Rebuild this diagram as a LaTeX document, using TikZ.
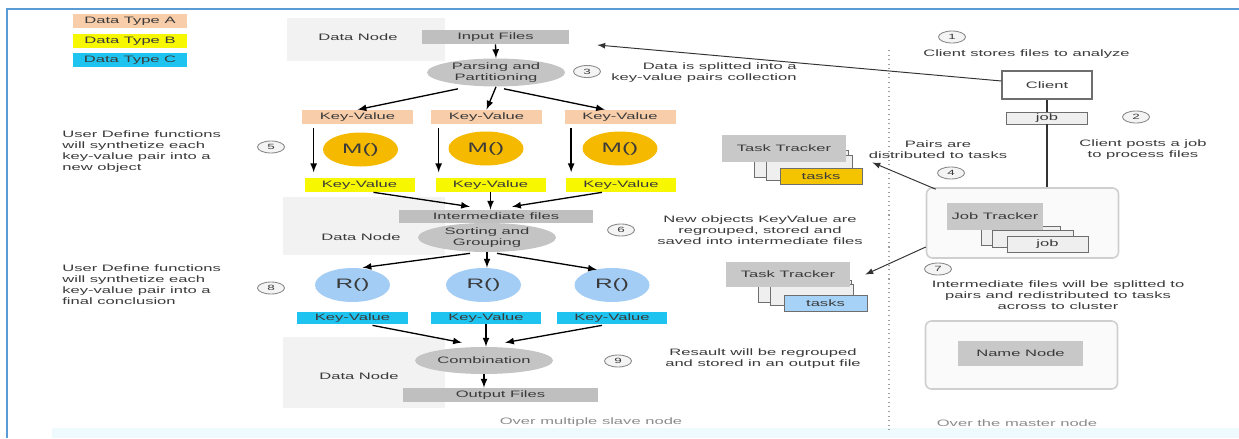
\documentclass[tikz,border=0pt]{standalone}
\usepackage{fontspec}
\setmainfont[FakeStretch=1.78]{Liberation Sans}
\usepackage{tikz}
\usetikzlibrary{positioning,shapes.geometric}
\definecolor{FrameBlue}{HTML}{5B9BD5}
\definecolor{StripCyan}{HTML}{EEFAFD}
\definecolor{NodeBg}{HTML}{F2F2F2}
\definecolor{TextDark}{HTML}{3A3A3A}
\definecolor{CapGray}{HTML}{8C8C8C}
\definecolor{TypeA}{HTML}{F8CDAA}
\definecolor{TypeB}{HTML}{F7F700}
\definecolor{TypeC}{HTML}{1EC3F0}
\definecolor{BarGray}{HTML}{BFBFBF}
\definecolor{EllGray}{HTML}{C4C4C4}
\definecolor{MapGold}{HTML}{F5BA00}
\definecolor{RedBlue}{HTML}{A3CDF5}
\definecolor{StepGray}{HTML}{8A8A8A}
\definecolor{StepFill}{HTML}{F4F4F4}
\definecolor{TrackGray}{HTML}{C8C8C8}
\definecolor{StackLine}{HTML}{6E6E6E}
\definecolor{StackFill}{HTML}{EFEFEF}
\definecolor{TaskGold}{HTML}{F5C400}
\definecolor{TaskBlue}{HTML}{A6D2F7}
\definecolor{MasterLine}{HTML}{CFCFCF}
\definecolor{MasterFill}{HTML}{FAFAFA}
\definecolor{LinkGray}{HTML}{333333}
\definecolor{SepGray}{HTML}{A0A0A0}
\tikzset{
  txtnode/.style={inner sep=0pt,align=center,
    font=\fontsize{5.3}{6.3}\selectfont\color{TextDark}},
  legbox/.style={txtnode,minimum width=22.8mm,minimum height=2.8mm},
  filebar/.style={txtnode,fill=BarGray,minimum height=2.8mm},
  procell/.style={txtnode,ellipse,fill=EllGray,minimum width=27.6mm,minimum height=5.2mm},
  kvbox/.style={txtnode,minimum width=22mm,minimum height=2.8mm},
  mapnode/.style={ellipse,fill=MapGold,minimum width=15mm,minimum height=6.8mm,inner sep=0pt,
    font=\fontsize{7.8}{9}\selectfont\color{TextDark}},
  rednode/.style={ellipse,fill=RedBlue,minimum width=15mm,minimum height=6.8mm,inner sep=0pt,
    font=\fontsize{7.8}{9}\selectfont\color{TextDark}},
  stepmark/.style={ellipse,draw=StepGray,line width=0.5pt,fill=StepFill,
    minimum width=5.4mm,minimum height=2.4mm,inner sep=0pt,
    font=\fontsize{4.3}{5}\selectfont\color{TextDark}},
  tracker/.style={txtnode,fill=TrackGray,minimum width=24.8mm,minimum height=5.4mm},
  stackbox/.style={draw=StackLine,fill=StackFill,line width=0.4pt,inner sep=0pt},
  masterbox/.style={draw=MasterLine,fill=MasterFill,line width=0.9pt,rounded corners=1.2mm,
    minimum width=38.4mm,minimum height=14mm},
  caption/.style={inner sep=0pt,font=\fontsize{5.3}{6.3}\selectfont\color{CapGray}},
  flow/.style={-latex,line width=0.75pt,draw=black},
  link/.style={-latex,line width=0.55pt,draw=LinkGray},
  wire/.style={line width=1.1pt,draw=LinkGray},
}

\begin{document}
\begin{tikzpicture}[x=0.2mm,y=-0.2mm]
  \useasboundingbox (0,0) rectangle (1239,438);
  \fill[StripCyan] (52,428) rectangle (1239,438);
  \draw[FrameBlue,line width=0.4mm] (7,438) -- (7,9) -- (1239,9);
  \fill[NodeBg] (287,18) rectangle (445,61);
  \fill[NodeBg] (283,197) rectangle (445,255);
  \fill[NodeBg] (283,337) rectangle (445,408);
  \draw[SepGray,dotted,line width=0.6pt] (889,50) -- (889,432);

  \node[legbox,fill=TypeA] (legA) at (130,21.5) {Data Type A};
  \node[legbox,fill=TypeB] (legB) at (130,41) {Data Type B};
  \node[legbox,fill=TypeC] (legC) at (130,60.5) {Data Type C};

  \node[txtnode] (dn1) at (358,37) {Data Node};
  \node[txtnode] (dn2) at (361,237) {Data Node};
  \node[txtnode] (dn3) at (359,376) {Data Node};

  \node[filebar,minimum width=29.4mm] (inp) at (495.5,37) {Input Files};
  \node[procell] (parse) at (496,72.5) {Parsing and\\Partitioning};
  \node[stepmark] (s3) at (587,71.5) {3};
  \node[txtnode,align=right,anchor=east] (note3) at (797,72.5) {Data is splitted into a\\key-value pairs collection};

  \node[kvbox,fill=TypeA,minimum width=22.2mm] (kvA1) at (357.5,117) {Key-Value};
  \node[kvbox,fill=TypeA,minimum width=22.2mm] (kvA2) at (486.5,117) {Key-Value};
  \node[kvbox,fill=TypeA,minimum width=22.2mm] (kvA3) at (620,117) {Key-Value};
  \node[mapnode] (mapM1) at (360.5,149.5) {M()};
  \node[mapnode] (mapM2) at (486,148.5) {M()};
  \node[mapnode] (mapM3) at (620,148.5) {M()};
  \node[kvbox,fill=TypeB] (kvB1) at (359.5,185) {Key-Value};
  \node[kvbox,fill=TypeB] (kvB2) at (490.5,185) {Key-Value};
  \node[kvbox,fill=TypeB] (kvB3) at (621,185) {Key-Value};
  \node[stepmark] (s5) at (271,147) {5};
  \node[txtnode,align=left,anchor=west] (udf1) at (62,151.5) {User Define functions\\will synthetize each\\key-value pair into a\\new object};

  \node[filebar,minimum width=38.8mm,minimum height=2.6mm] (inter) at (496,216.5) {Intermediate files};
  \node[procell,minimum height=5.8mm] (sort) at (487,237.5) {Sorting and\\Grouping};
  \node[stepmark] (s6) at (621,230) {6};
  \node[txtnode] (note6) at (760,230) {New objects KeyValue are\\regrouped, stored and\\saved into intermediate files};

  \node[rednode] (redR1) at (352.5,285) {R()};
  \node[rednode] (redR2) at (483.5,285) {R()};
  \node[rednode] (redR3) at (612,285) {R()};
  \node[kvbox,fill=TypeC,minimum width=22.2mm,minimum height=2.4mm] (kvC1) at (352.5,318) {Key-Value};
  \node[kvbox,fill=TypeC,minimum height=2.4mm] (kvC2) at (486,318) {Key-Value};
  \node[kvbox,fill=TypeC,minimum height=2.4mm] (kvC3) at (612,318) {Key-Value};
  \node[stepmark] (s8) at (271,288) {8};
  \node[txtnode,align=left,anchor=west] (udf2) at (62,285) {User Define functions\\will synthetize each\\key-value pair into a\\final conclusion};

  \node[procell,minimum height=5.4mm] (comb) at (484,360.5) {Combination};
  \node[stepmark] (s9) at (618,361) {9};
  \node[txtnode] (note9) at (763,359) {Resault will be regrouped\\and stored in an output file};
  \node[filebar,minimum width=39mm] (outp) at (500.5,395) {Output Files};
  \node[caption] (slave) at (591,422) {Over multiple slave node};

  \node[stepmark] (s1) at (952,37) {1};
  \node[txtnode] (note1) at (1026.5,54) {Client stores files to analyze};
  \node[txtnode,draw=StackLine,fill=white,line width=0.6pt,minimum width=18mm,minimum height=5.6mm] (client) at (1047,85) {Client};
  \node[txtnode,draw=StackLine,fill=StackFill,line width=0.5pt,minimum width=16.2mm,minimum height=2.4mm] (jobtag) at (1047,118) {job};
  \node[stepmark] (s2) at (1136,117) {2};
  \node[txtnode] (note2) at (1143,149.5) {Client posts a job\\to process files};
  \node[txtnode] (note4) at (938,149.5) {Pairs are\\distributed to tasks};
  \node[stepmark] (s4) at (951,173) {4};

  \node[masterbox] (jt) at (1022.5,223) {};
  \node[stackbox,minimum width=15.8mm,minimum height=3.8mm] (jbA) at (1020.5,235.5) {};
  \node[stackbox,minimum width=16.2mm,minimum height=3.4mm] (jbB) at (1032.5,238.5) {};
  \node[tracker,minimum width=19.2mm] (jtin) at (995,216.5) {Job Tracker};
  \node[stackbox,txtnode,minimum width=16.2mm,minimum height=3.2mm] (jbF) at (1047.5,244) {job};
  \node[stepmark] (s7) at (938,269) {7};
  \node[txtnode] (note7) at (1058,295) {Intermediate files will be splitted to\\pairs and redistributed to tasks\\across to cluster};

  \node[masterbox,minimum height=13.6mm] (nn) at (1021.5,355) {};
  \node[tracker,minimum width=25mm,minimum height=5mm] (nnin) at (1020.5,353.5) {Name Node};
  \node[caption] (master) at (1017,423) {Over the master node};

  \node[stackbox,minimum width=18.8mm,minimum height=5.4mm] (ttA) at (801,163.5) {};
  \node[stackbox,minimum width=17.2mm,minimum height=5mm] (ttB) at (809,167.5) {};
  \node[tracker] (tt1) at (784,148.5) {Task Tracker};
  \node[txtnode,draw=StackLine,fill=TaskGold,line width=0.5pt,minimum width=16.4mm,minimum height=3.2mm] (tasks1) at (821,176) {tasks};

  \node[stackbox,minimum width=18.6mm,minimum height=4.4mm] (ttC) at (804.5,291) {};
  \node[stackbox,minimum width=16.6mm,minimum height=4.2mm] (ttD) at (811.5,294.5) {};
  \node[tracker,minimum height=5mm] (tt2) at (788,274.5) {Task Tracker};
  \node[txtnode,draw=StackLine,fill=TaskBlue,line width=0.5pt,minimum width=16.6mm,minimum height=3.2mm] (tasks2) at (825.5,303) {tasks};

  \draw[flow] (inp.south) -- (parse.north);
  \draw[flow] ([shift={(-38,2)}]parse.south) -- (kvA1.north);
  \draw[flow] (parse.south) -- (kvA2.north);
  \draw[flow] ([shift={(8,2)}]parse.south) -- ([shift={(-15,0)}]kvA3.north);
  \draw[flow] ([shift={(12,4)}]kvA1.south west) -- ++(0,44);
  \draw[flow] ([shift={(8,4)}]kvA2.south west) -- ++(0,44);
  \draw[flow] ([shift={(7,4)}]kvA3.south west) -- ++(0,44);
  \draw[flow] ([shift={(14,0)}]kvB1.south) -- ([shift={(-26,-3)}]inter.north);
  \draw[flow] (kvB2.south) -- (kvB2.south |- inter.north);
  \draw[flow] ([shift={(-19,0)}]kvB3.south) -- ([shift={(16,-3)}]inter.north);
  \draw[flow] ([shift={(-17,1)}]sort.south) -- ([shift={(10,0)}]redR1.north);
  \draw[flow] (sort.south) -- (sort.south |- redR2.north);
  \draw[flow] ([shift={(10,1)}]sort.south) -- ([shift={(-15,2)}]redR3.north);
  \draw[flow] ([shift={(20,1)}]kvC1.south) -- ([shift={(-22,-4)}]comb.north);
  \draw[flow] (kvC2.south) -- (kvC2.south |- comb.north);
  \draw[flow] ([shift={(-10,1)}]kvC3.south) -- ([shift={(21,-4)}]comb.north);
  \draw[flow] (comb.south) -- (comb.south |- outp.north);

  \draw[link] ([shift={(0,-4)}]client.west) -- ([shift={(28,8)}]inp.east);
  \draw[wire] (client.south) -- (jobtag.north);
  \draw[wire] (jobtag.south) -- (jobtag.south |- jt.north);
  \draw[link] ([shift={(10,2)}]jt.north west) -- ([shift={(10,-5)}]tasks1.north east);
  \draw[link] ([shift={(0,24)}]jt.west) -- ([shift={(15,0)}]tt2.east);
\end{tikzpicture}
\end{document}
